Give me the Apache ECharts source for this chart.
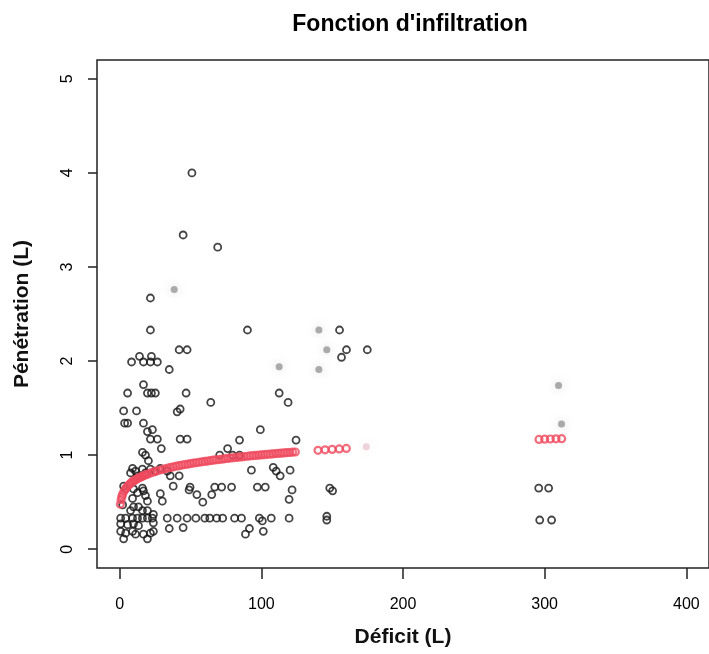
<!DOCTYPE html>
<html>
<head>
<meta charset="utf-8">
<script src="https://cdn.jsdelivr.net/npm/echarts@6/dist/echarts.min.js"></script>
<style>html,body{margin:0;padding:0;background:#fff}#c{width:709px;height:654px}</style>
</head>
<body>
<div id="c"></div>
<script>
const xTicks = [0, 100, 200, 300, 400];
const yTicks = [0, 1, 2, 3, 4, 5];

// Observed points (black open circles)
const deficitObs = [51.0,44.8,69.2,21.7,21.7,90.2,155.2,160.1,174.8,156.6,42.0,47.6,8.4,14.0,22.4,16.8,21.7,26.6,35.0,16.8,5.6,19.6,22.4,25.2,46.9,112.6,118.9,64.3,2.8,11.9,40.6,42.7,3.5,5.6,16.8,19.6,23.1,21.7,26.6,42.7,47.6,84.6,99.3,124.5,29.4,16.1,18.2,76.2,70.6,79.7,84.6,20.3,93.0,108.4,110.5,113.3,120.3,9.1,11.2,16.1,18.2,21.7,25.2,28.7,33.6,7.7,12.6,35.7,42.0,37.8,49.7,49.0,54.5,58.7,65.0,67.1,72.0,79.0,97.2,102.8,121.7,119.6,2.8,4.2,9.8,12.6,16.1,16.8,18.2,9.1,19.6,28.7,30.1,2.1,9.8,13.3,7.7,16.1,19.6,0.7,4.2,9.1,12.6,16.1,19.6,23.1,23.8,33.6,40.6,47.6,53.8,60.1,63.6,68.5,72.7,81.1,86.0,98.6,100.7,107.0,119.6,146.2,146.2,0.7,5.6,9.8,13.3,23.8,35.0,44.8,91.6,88.8,101.4,0.7,4.2,9.1,11.2,16.8,21.7,23.8,2.8,19.6,295.8,302.8,296.5,304.9,148.3,150.3];
const penetrationObs = [4.00,3.34,3.21,2.67,2.33,2.33,2.33,2.12,2.12,2.04,2.12,2.12,1.99,2.05,2.05,1.99,1.99,1.99,1.91,1.75,1.66,1.66,1.66,1.66,1.66,1.66,1.56,1.56,1.47,1.47,1.46,1.49,1.34,1.34,1.34,1.25,1.27,1.17,1.17,1.17,1.17,1.16,1.27,1.16,1.07,1.03,1.00,1.07,1.00,1.00,1.00,0.94,0.84,0.87,0.83,0.78,0.84,0.86,0.83,0.85,0.81,0.85,0.83,0.86,0.83,0.81,0.78,0.78,0.78,0.67,0.66,0.63,0.58,0.50,0.58,0.66,0.66,0.66,0.66,0.66,0.63,0.53,0.67,0.64,0.64,0.60,0.65,0.62,0.57,0.54,0.51,0.59,0.51,0.47,0.45,0.45,0.41,0.41,0.41,0.33,0.33,0.33,0.33,0.33,0.33,0.33,0.37,0.33,0.33,0.33,0.33,0.33,0.33,0.33,0.33,0.33,0.33,0.33,0.30,0.33,0.33,0.35,0.31,0.27,0.26,0.27,0.25,0.28,0.22,0.23,0.22,0.16,0.19,0.19,0.17,0.19,0.16,0.16,0.17,0.19,0.11,0.11,0.65,0.65,0.31,0.31,0.65,0.62];

// Fitted infiltration values (red open circles)
const deficitFit = [0.5,1,1.5,2,3,4,5,6,7,8,9,10,11,12,13,14,15,16,17,18,19,20,22,24,26,28,30,32,34,36,38,40,42,44,46,48,50,52,54,56,58,60,62,64,66,68,70,72,74,76,78,80,82,84,86,88,90,92,94,96,98,100,102,104,106,108,110,112,114,116,118,120,122,124,140,145,150,155,160,296,300,304,308,312];
const penetrationFit = [0.478,0.526,0.557,0.580,0.613,0.639,0.659,0.676,0.691,0.704,0.716,0.726,0.736,0.745,0.753,0.761,0.768,0.775,0.782,0.788,0.794,0.800,0.811,0.821,0.830,0.839,0.847,0.854,0.862,0.869,0.875,0.882,0.888,0.894,0.899,0.904,0.910,0.915,0.919,0.924,0.929,0.933,0.937,0.941,0.946,0.950,0.953,0.957,0.961,0.965,0.968,0.971,0.975,0.978,0.981,0.984,0.988,0.991,0.994,0.997,0.999,1.002,1.005,1.008,1.010,1.013,1.016,1.018,1.021,1.023,1.026,1.028,1.031,1.033,1.051,1.056,1.061,1.066,1.071,1.167,1.169,1.171,1.173,1.175];

// Faded (scan-washed) marks
const deficitFaded = [38.5,140.6,146.2,112.6,140.6,309.8,311.9];
const penetrationFaded = [2.76,2.33,2.12,1.94,1.91,1.74,1.33];
const deficitFadedFit = [174.1];
const penetrationFadedFit = [1.09];

const zip = (a, b) => a.map((v, i) => [v, b[i]]);
const FONT = '"Liberation Sans", Arial, Helvetica, sans-serif';

const chart = echarts.init(document.getElementById('c'), null, {renderer: 'canvas'});
chart.setOption({
  animation: false,
  backgroundColor: '#fff',
  title: {
    text: "Fonction d'infiltration",
    left: 405, top: 8, textAlign: 'center',
    textStyle: {fontFamily: FONT, fontWeight: 'bold', fontSize: 23, color: '#000'}
  },
  grid: {left: 97, top: 60, right: -5, bottom: 86, show: true, borderColor: '#222', borderWidth: 1.5, backgroundColor: 'transparent'},
  xAxis: {
    type: 'value', min: -16, max: 416,
    name: 'Déficit (L)', nameLocation: 'middle', nameGap: 59,
    nameTextStyle: {fontFamily: FONT, fontSize: 21, fontWeight: 'bold', color: '#111'},
    axisLine: {show: false, onZero: false},
    axisTick: {show: true, customValues: xTicks, length: 11, lineStyle: {color: '#222', width: 1.5}},
    axisLabel: {customValues: xTicks, margin: 29, fontFamily: FONT, fontSize: 16, color: '#000'},
    splitLine: {show: false}
  },
  yAxis: {
    type: 'value', min: -0.2, max: 5.2,
    name: 'Pénétration (L)', nameLocation: 'middle', nameGap: 64, nameRotate: 90,
    nameTextStyle: {fontFamily: FONT, fontSize: 21, fontWeight: 'bold', color: '#111'},
    axisLine: {show: false, onZero: false},
    axisTick: {show: true, customValues: yTicks, length: 9, lineStyle: {color: '#222', width: 1.5}},
    axisLabel: {customValues: yTicks, rotate: 90, margin: 21, fontFamily: FONT, fontSize: 16, color: '#000'},
    splitLine: {show: false}
  },
  series: [
    {
      type: 'scatter', name: 'faded', data: zip(deficitFaded, penetrationFaded),
      symbol: 'circle', symbolSize: 7,
      itemStyle: {color: 'rgba(120,120,120,0.75)', shadowBlur: 8, shadowColor: 'rgba(150,150,150,0.6)'},
      silent: true
    },
    {
      type: 'scatter', name: 'fadedFit', data: zip(deficitFadedFit, penetrationFadedFit),
      symbol: 'circle', symbolSize: 7,
      itemStyle: {color: 'rgba(220,170,180,0.6)', shadowBlur: 8, shadowColor: 'rgba(230,190,200,0.6)'},
      silent: true
    },
    {
      type: 'scatter', name: 'observé', data: zip(deficitObs, penetrationObs),
      symbol: 'circle', symbolSize: 7,
      itemStyle: {color: 'rgba(255,255,255,0)', borderColor: '#151515', borderWidth: 1.8}
    },
    {
      type: 'scatter', name: 'ajusté', data: zip(deficitFit, penetrationFit),
      symbol: 'circle', symbolSize: 7,
      itemStyle: {color: 'rgba(255,255,255,0)', borderColor: '#ef4a5e', borderWidth: 2.2}
    }
  ]
});
</script>
</body>
</html>
